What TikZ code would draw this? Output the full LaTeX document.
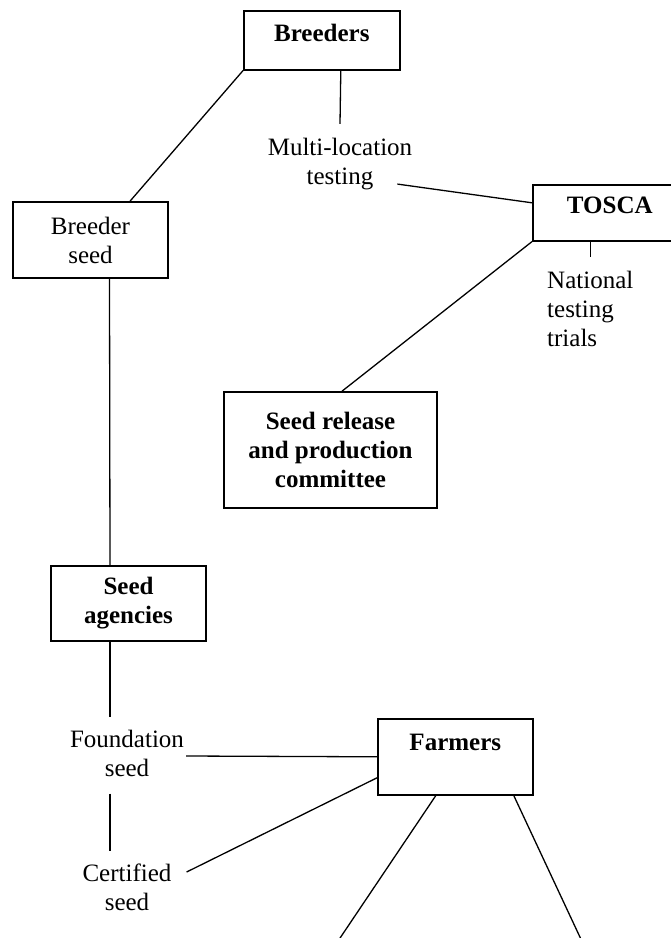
\documentclass[tikz,border=0pt]{standalone}
\usepackage{fontspec}
\setmainfont{Liberation Serif}
\newcommand{\chartfont}{\fontsize{25}{29}\selectfont}

\begin{document}
\begin{tikzpicture}[x=1pt, y=-1pt,
    panel/.style={draw, line width=1.6pt, inner sep=0pt, align=center, font=\chartfont\bfseries},
    note/.style={inner sep=0pt, align=center, font=\chartfont},
    link/.style={line width=1.3pt}]
    % Page frame
    \useasboundingbox (0,0) rectangle (671,938);
    \clip (0,0) rectangle (671,938);

    % Boxes
    \node[panel, anchor=north west, minimum width=156pt, text height=31pt, text depth=28pt] (breeders) at (243,10) {Breeders};
    \node[panel, anchor=north west, minimum width=154pt, text height=29pt, text depth=27pt] (tosca) at (532,184) {TOSCA};
    \node[panel, anchor=north west, minimum width=155pt, text height=32pt, text depth=44pt] (farmers) at (377,718) {Farmers};
    \node[panel, font=\chartfont, minimum width=155pt, minimum height=76pt] (bseed) at (90.5,240) {Breeder\\seed};
    \node[panel, minimum width=213pt, minimum height=116pt] (release) at (330.5,450) {Seed release\\and production\\committee};
    \node[panel, minimum width=155pt, minimum height=75pt] (agencies) at (128.5,603.5) {Seed\\agencies};

    % Plain labels
    \node[note] (multi) at (340,164) {Multi-location\\testing};
    \node[note, anchor=west, align=left] (national) at (547,308.5) {National\\testing\\trials};
    \node[note] (found) at (127,753) {Foundation\\seed};
    \node[note] (cert) at (127,887) {Certified\\seed};

    % Lines running off the page
    \coordinate (outL) at (332,950);
    \coordinate (outR) at (586,950);

    % Connectors
    \draw[link] (breeders.south west) -- ([xshift=39.5pt]bseed.north);
    \draw[link] ([xshift=19pt]breeders.south) -- ([yshift=14pt]multi.north);
    \draw[link] ([xshift=-15pt,yshift=6pt]multi.south east) -- ([yshift=10pt]tosca.west);
    \draw[link] (national.north |- tosca.south) -- ([yshift=14pt]national.north);
    \draw[link] (tosca.south west) -- ([xshift=11.5pt]release.north);
    \draw[link] ([xshift=19pt]bseed.south) -- ([xshift=-18.5pt]agencies.north);
    \draw[link] ([xshift=-18.5pt]agencies.south) -- ([xshift=-17pt,yshift=13pt]found.north);
    \draw[link] ([xshift=-17pt,yshift=-17pt]found.south) -- ([xshift=-17pt,yshift=12pt]cert.north);
    \draw[link] ([xshift=2pt,yshift=-3pt]found.east) -- (farmers.west);
    \draw[link] ([xshift=15pt,yshift=15pt]cert.east) -- ([yshift=-21pt]farmers.west);
    \draw[link] ([xshift=-19.5pt]farmers.south) -- (outL);
    \draw[link] ([xshift=58.5pt]farmers.south) -- (outR);
\end{tikzpicture}
\end{document}
